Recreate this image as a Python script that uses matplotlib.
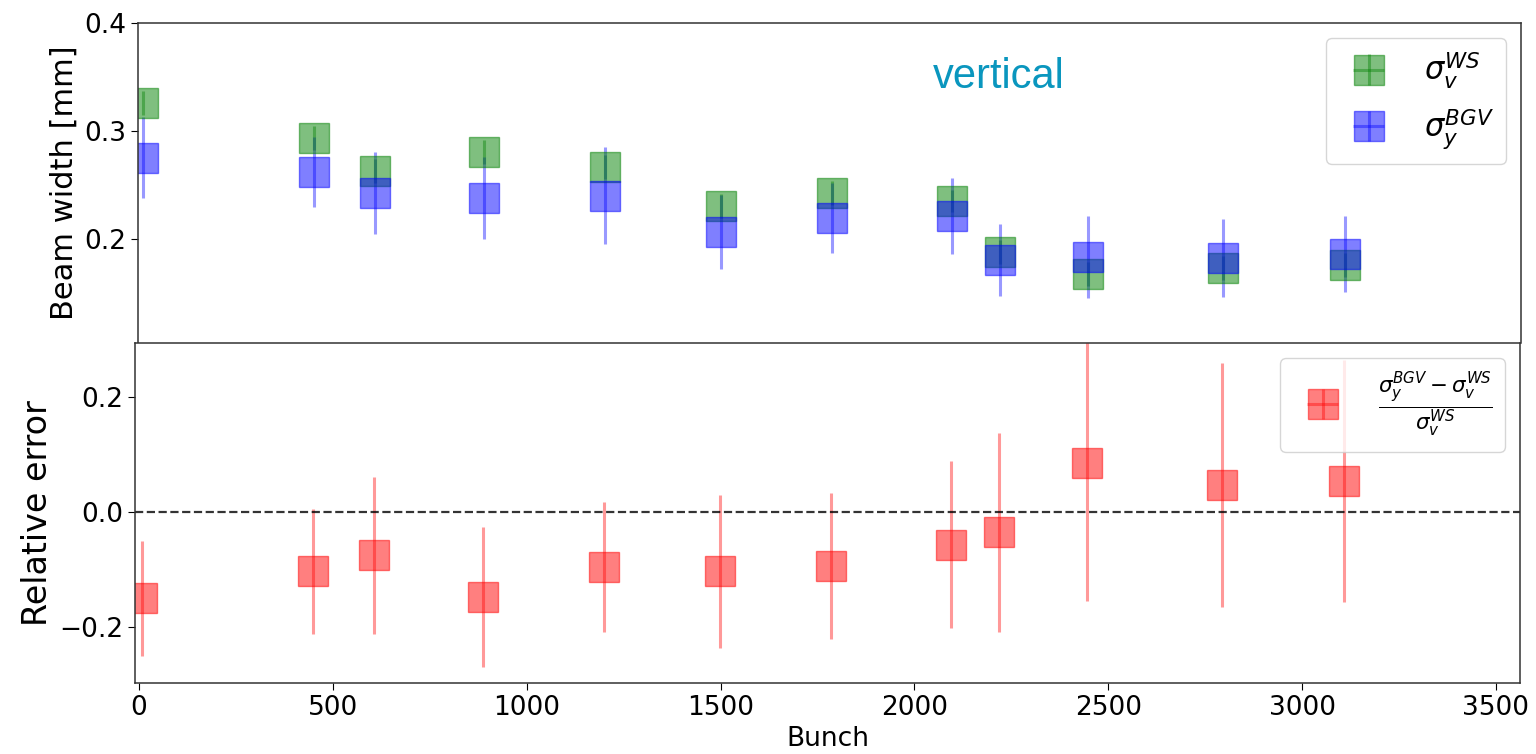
""" Beam width from wire scanner and BGV per bunch, plus their relative error. """

import matplotlib.pyplot as plt

bunch = [8, 449, 606, 887, 1199, 1499, 1785, 2094, 2218, 2445, 2793, 3108]

sigma_ws = [0.326, 0.2935, 0.263, 0.2806, 0.2667, 0.2306, 0.2426, 0.235, 0.188, 0.1676, 0.173, 0.176]
sigma_ws_err = [0.011, 0.011, 0.011, 0.011, 0.011, 0.011, 0.011, 0.01, 0.011, 0.011, 0.011, 0.011]

sigma_bgv = [0.275, 0.262, 0.2426, 0.238, 0.24, 0.2065, 0.2194, 0.2213, 0.1806, 0.1833, 0.1824, 0.186]
sigma_bgv_err = [0.0375, 0.032, 0.038, 0.038, 0.045, 0.034, 0.032, 0.0356, 0.033, 0.038, 0.036, 0.035]

rel_err = [-0.15, -0.103, -0.075, -0.148, -0.096, -0.103, -0.094, -0.057, -0.035, 0.085, 0.047, 0.054]
rel_err_unc = [0.10, 0.108, 0.136, 0.122, 0.113, 0.133, 0.127, 0.145, 0.173, 0.24, 0.212, 0.21]

zeros = [0] * len(bunch)

fig = plt.figure(figsize=(15.36, 7.54), dpi=100)
ax_top = fig.add_axes([0.0898, 0.5451, 0.9004, 0.4244])
ax_bot = fig.add_axes([0.0879, 0.0942, 0.9017, 0.4509])

box = dict(fmt='s', markersize=22, elinewidth=2.2, alpha=0.5)


def boxes(ax, y, yerr, color, label):
    cont = ax.errorbar(bunch, y, yerr=yerr, xerr=zeros, color=color, label=label, **box)
    # error bars a bit lighter than the boxes
    for lc in cont[2]:
        lc.set_alpha(0.4)
    return cont


# top panel: widths
boxes(ax_top, sigma_ws, sigma_ws_err, 'g', r'$\sigma_v^{WS}$')
boxes(ax_top, sigma_bgv, sigma_bgv_err, 'b', r'$\sigma_y^{BGV}$')
ax_top.set_xlim(-5, 3562)
ax_top.set_ylim(0.1037, 0.4)
ax_top.set_yticks([0.2, 0.3, 0.4])
ax_top.set_xticks([])
ax_top.spines['bottom'].set_visible(False)
ax_top.set_ylabel('Beam width [mm]', fontsize=22)
ax_top.tick_params(axis='y', labelsize=19, length=5)
ax_top.legend(loc='upper right', fontsize=22)

fig.text(0.650, 0.883, 'vertical', color='#0A96BE', fontsize=30,
         family='Liberation Sans', ha='center', va='baseline')

# bottom panel: relative error
boxes(ax_bot, rel_err, rel_err_unc, 'r',
      r'$\frac{\sigma_y^{BGV} - \sigma_v^{WS}}{\sigma_v^{WS}}$')
ax_bot.axhline(0, color='k', linestyle='--', linewidth=1.6, alpha=0.8)
ax_bot.set_xlim(-10, 3562)
ax_bot.set_ylim(-0.297, 0.294)
ax_bot.set_yticks([-0.2, 0.0, 0.2])
ax_bot.set_xticks([0, 500, 1000, 1500, 2000, 2500, 3000, 3500])
ax_bot.set_ylabel('Relative error', fontsize=24)
ax_bot.set_xlabel('Bunch', fontsize=19)
ax_bot.tick_params(axis='both', labelsize=19, length=5)
ax_bot.legend(loc='upper right', fontsize=22)

for ax in (ax_top, ax_bot):
    for sp in ax.spines.values():
        sp.set_linewidth(1.1)
        sp.set_color('#333333')

fig.savefig('out.png', dpi=100)
